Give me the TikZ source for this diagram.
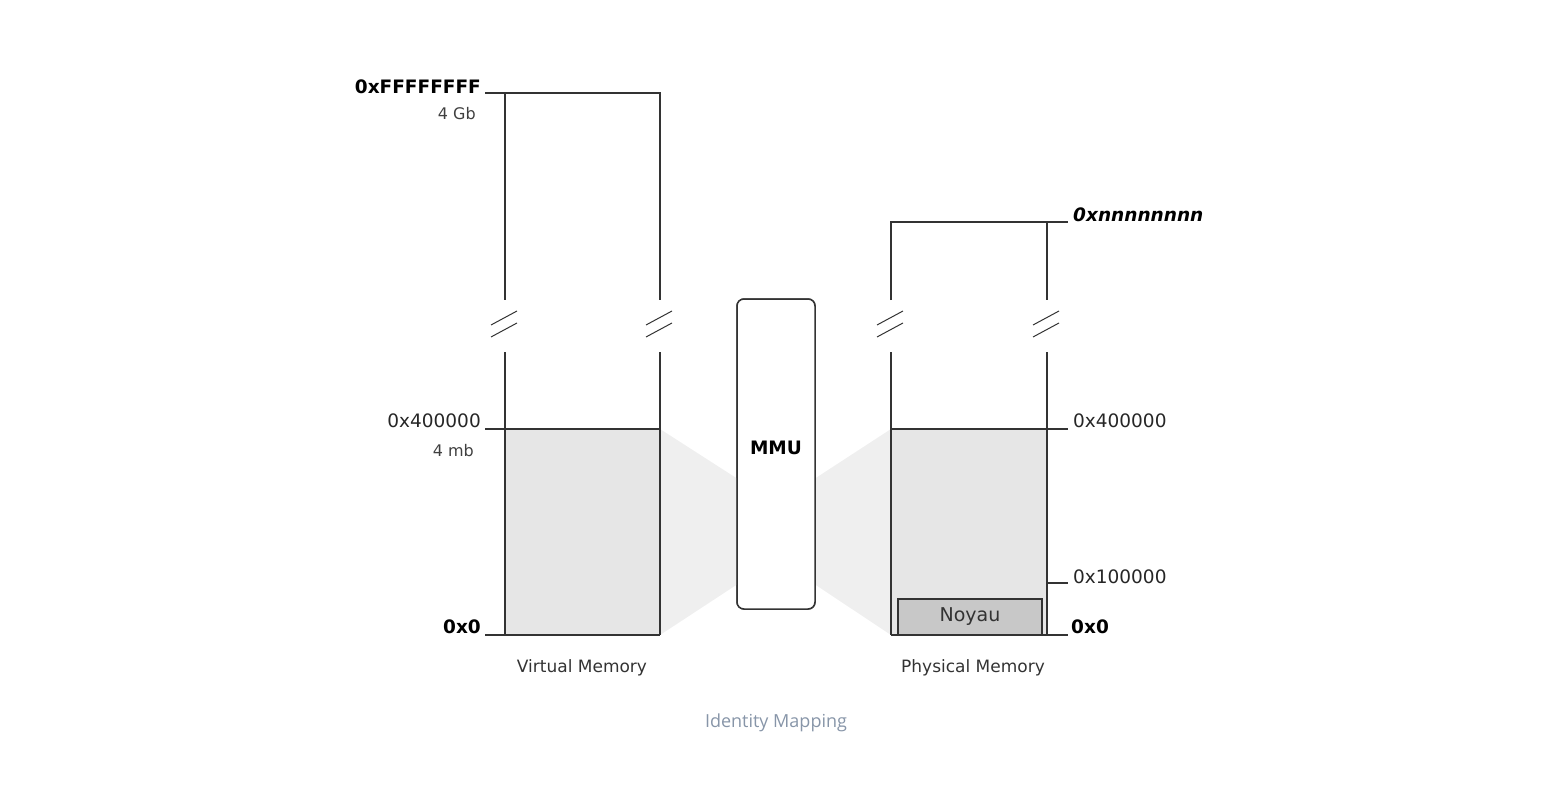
\documentclass[tikz,border=0pt]{standalone}
\usepackage{fontspec}
\setmainfont{DejaVu Sans}
\newfontfamily\capfont{Open Sans}
\usetikzlibrary{positioning,calc}
\definecolor{memline}{HTML}{333333}
\definecolor{memfill}{HTML}{E6E6E6}
\definecolor{mapfill}{HTML}{EFEFEF}
\definecolor{kernfill}{HTML}{C8C8C8}
\definecolor{capgray}{HTML}{8795A8}

\begin{document}
\begin{tikzpicture}[
    x=1pt, y=-1pt,
    memline/.style={draw=memline, line width=1.5pt},
    brk/.style={draw=memline, line width=1pt},
    addr/.style={font=\fontsize{18.5}{22}\selectfont, text=black!85, inner sep=0pt},
    addrbold/.style={addr, font=\fontsize{18.5}{22}\selectfont\bfseries, text=black},
    size/.style={font=\fontsize{16}{19}\selectfont, text=black!75, inner sep=0pt},
    title/.style={font=\fontsize{17}{20}\selectfont, text=black!80, inner sep=0pt},
    mmubox/.style={draw=memline, line width=1.5pt, fill=white, rounded corners=7pt,
        minimum width=78pt, minimum height=310pt},
    kernel/.style={draw=memline, line width=1.5pt, fill=kernfill, minimum width=144pt,
        minimum height=36pt, font=\fontsize{19}{22}\selectfont, text=black!80, inner sep=0pt},
    caption/.style={font=\capfont\fontsize{18}{22}\selectfont, text=capgray, inner sep=0pt}
]
\useasboundingbox (0,0) rectangle (1544,810);

% mapping shades
\node[mmubox] (mmu) at (776,454) {};
\fill[mapfill] (660,429) -- ($(mmu.west)+(0,24)$) -- ($(mmu.west)+(0,131)$) -- (660,635) -- cycle;
\fill[mapfill] (891,429) -- ($(mmu.east)+(0,24)$) -- ($(mmu.east)+(0,131)$) -- (891,635) -- cycle;
\node[mmubox] (mmu) at (776,454) {};
\node[font=\fontsize{18.5}{22}\selectfont\bfseries] (mmutext) at ($(mmu.center)+(0,-6)$) {MMU};

% virtual memory
\fill[memfill] (505,429) rectangle (660,635);
\draw[memline] (485,93) -- (660,93) -- (660,300);
\draw[memline] (505,93) -- (505,300);
\draw[memline] (505,352) -- (505,635);
\draw[memline] (660,352) -- (660,635);
\draw[memline] (485,429) -- (660,429);
\draw[memline] (485,635) -- (660,635);

% physical memory
\fill[memfill] (891,429) rectangle (1047,635);
\draw[memline] (891,300) -- (891,222) -- (1068,222);
\draw[memline] (1047,222) -- (1047,300);
\draw[memline] (891,352) -- (891,635);
\draw[memline] (1047,352) -- (1047,635);
\draw[memline] (891,429) -- (1068,429);
\draw[memline] (1047,583) -- (1068,583);
\draw[memline] (891,635) -- (1068,635);
\node[kernel] (noyau) at (970,617) {Noyau};

% breaks
\foreach \x in {505,660,891,1047} {
    \draw[brk] (\x-14,325) -- (\x+12,311);
    \draw[brk] (\x-14,337) -- (\x+12,323);
}

% virtual labels
\node[addrbold, anchor=east] (vtop) at (481,87) {0xFFFFFFFF};
\node[size, anchor=east] (vgb) at (476,114) {4 Gb};
\node[addr, anchor=east] (vmid) at (481,421) {0x400000};
\node[size, anchor=east] (vmb) at (474,451) {4 mb};
\node[addrbold, anchor=east] (vlow) at (481,627) {0x0};
\node[title] (vname) at (582,668) {Virtual Memory};

% physical labels
\node[addrbold, anchor=west, font=\fontsize{18.5}{22}\selectfont\bfseries\itshape] (ptop) at (1073,215) {0xnnnnnnnn};
\node[addr, anchor=west] (pmid) at (1073,421) {0x400000};
\node[addr, anchor=west] (pone) at (1073,577) {0x100000};
\node[addrbold, anchor=west] (plow) at (1071,627) {0x0};
\node[title] (pname) at (973,668) {Physical Memory};

\node[caption] (cap) at (776,723) {Identity Mapping};
\end{tikzpicture}
\end{document}
